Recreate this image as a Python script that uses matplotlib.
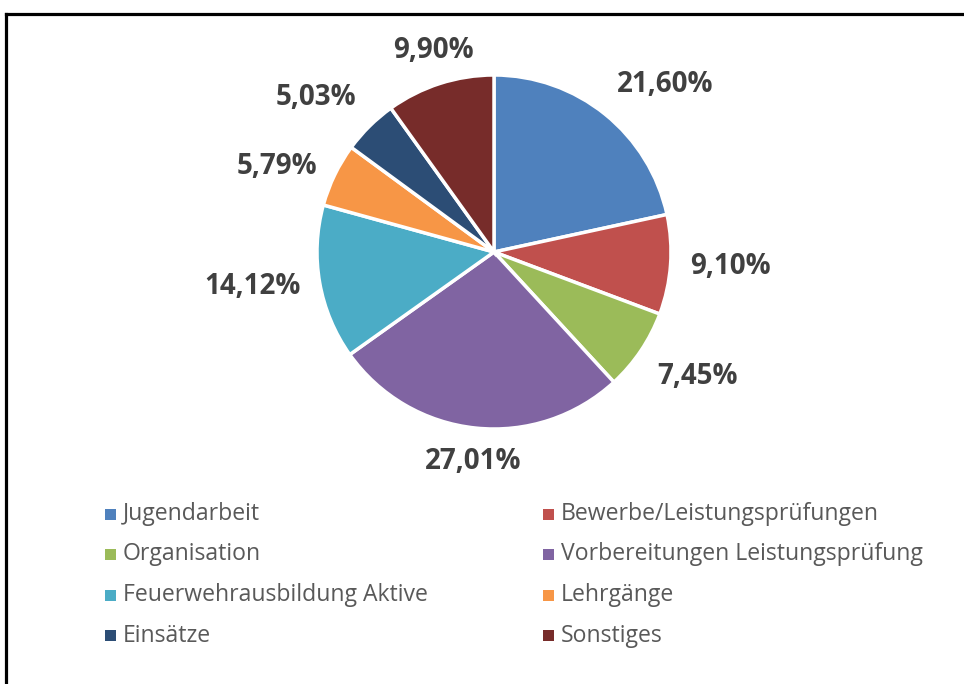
import numpy as np
import matplotlib
matplotlib.use("Agg")
import matplotlib.pyplot as plt
from matplotlib.lines import Line2D
from matplotlib.patches import Rectangle

categories = ["Jugendarbeit", "Bewerbe/Leistungsprüfungen", "Organisation",
              "Vorbereitungen Leistungsprüfung", "Feuerwehrausbildung Aktive",
              "Lehrgänge", "Einsätze", "Sonstiges"]
shares = [21.60, 9.10, 7.45, 27.01, 14.12, 5.79, 5.03, 9.90]
colors = ["#4F81BD", "#C0504D", "#9BBB59", "#8064A2",
          "#4BACC6", "#F79646", "#2C4D75", "#772C2A"]

W, H = 964, 684
fig = plt.figure(figsize=(W / 100, H / 100), dpi=100)

# pie axes: centre (494, 252) px, radius 177 px
cx, cy, R = 494, 252, 177
half = R * 1.5
ax = fig.add_axes([(cx - half) / W, (H - cy - half) / H, 2 * half / W, 2 * half / H])

wedges, _ = ax.pie(shares, colors=colors, startangle=90, counterclock=False,
                   radius=1.0, wedgeprops=dict(edgecolor="white", linewidth=2.5))
ax.set_xlim(-1.5, 1.5)
ax.set_ylim(-1.5, 1.5)
ax.set_aspect("equal")
ax.axis("off")

# labels outside end, like Excel
for w, v in zip(wedges, shares):
    ang = np.deg2rad((w.theta1 + w.theta2) / 2)
    c, s = np.cos(ang), np.sin(ang)
    ha = "left" if c > 0.35 else ("right" if c < -0.35 else "center")
    va = "bottom" if s > 0.45 else ("top" if s < -0.45 else "center")
    ax.text(1.11 * c, 1.11 * s, f"{v:.2f}%".replace(".", ","), ha=ha, va=va,
            fontsize=20, fontweight="bold", color="#404040", family="Open Sans")

# legend, two columns, row-wise order
for i, (name, col) in enumerate(zip(categories, colors)):
    x0 = 105 if i % 2 == 0 else 543
    y0 = 514 + (i // 2) * 40.5
    fig.add_artist(Rectangle((x0 / W, 1 - (y0 + 5.5) / H), 11 / W, 11 / H,
                             transform=fig.transFigure, facecolor=col, edgecolor="none"))
    fig.text((x0 + 18) / W, 1 - y0 / H, name, ha="left", va="center",
             fontsize=16.6, color="#595959", family="Open Sans")

# frame
fig.add_artist(Line2D([5.5 / W, 5.5 / W], [0, 1 - 14 / H], color="black", lw=2.3,
                      transform=fig.transFigure, solid_capstyle="projecting"))
fig.add_artist(Line2D([5.5 / W, 1.0], [1 - 14 / H, 1 - 14 / H], color="black", lw=2.3,
                      transform=fig.transFigure, solid_capstyle="projecting"))

fig.savefig("out.png", dpi=100, facecolor="white")
